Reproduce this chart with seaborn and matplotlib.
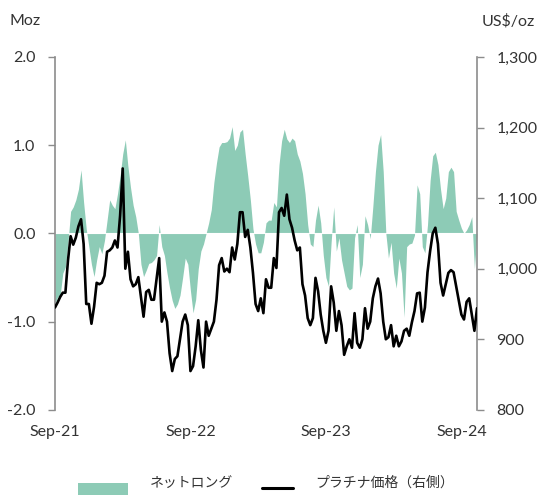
import matplotlib
matplotlib.use('Agg')
import matplotlib.pyplot as plt
import matplotlib.ticker as mticker
from matplotlib.patches import Rectangle
from matplotlib.lines import Line2D
import seaborn as sns
import numpy as np
import pandas as pd

# Datos semanales (Sep-21 .. Nov-24)
net_long = [
    -0.80, -0.72, -0.70, -0.45, -0.38, -0.10, 0.25, 0.30, 0.38, 0.50,
    0.72, 0.35, 0.05, -0.15, -0.35, -0.49, -0.30, -0.15, -0.23, -0.08,
    0.15, 0.38, 0.32, 0.28, 0.45, 0.65, 0.90, 1.06, 0.76, 0.52,
    0.32, 0.19, 0.00, -0.35, -0.49, -0.42, -0.34, -0.33, -0.30, -0.25,
    0.10, -0.15, -0.25, -0.45, -0.62, -0.76, -0.85, -0.80, -0.70, -0.50,
    -0.28, -0.35, -0.65, -0.90, -0.75, -0.40, -0.20, -0.12, 0.00, 0.12,
    0.27, 0.58, 0.80, 0.98, 1.03, 1.03, 1.04, 1.08, 1.21, 0.94,
    1.00, 1.15, 1.18, 0.90, 0.65, 0.38, 0.05, -0.12, -0.22, -0.22,
    -0.10, 0.12, 0.15, 0.15, 0.35, 0.30, 0.78, 1.05, 1.18, 1.07,
    1.03, 1.08, 1.05, 0.90, 0.82, 0.68, 0.45, 0.10, -0.12, -0.15,
    0.15, 0.32, 0.12, -0.25, -0.50, -0.60, -0.10, 0.30, -0.20, -0.05,
    -0.30, -0.45, -0.60, -0.64, -0.62, -0.05, 0.10, -0.50, -0.35, 0.20,
    0.10, -0.06, 0.30, 0.70, 1.00, 1.12, 0.70, 0.00, -0.28, -0.10,
    -0.45, -0.62, -0.28, -0.45, -0.95, -0.15, -0.12, -0.11, -0.02, 0.55,
    0.45, -0.15, -0.22, 0.10, 0.60, 0.88, 0.92, 0.78, 0.50, 0.28,
    0.40, 0.70, 0.75, 0.70, 0.25, 0.15, 0.06, 0.00, 0.04, 0.10,
    0.19, -0.40, 0.00,
]

price = [
    945, 952, 960, 966, 966, 1012, 1046, 1034, 1044, 1060,
    1070, 1035, 950, 950, 922, 946, 980, 978, 980, 990,
    1024, 1026, 1030, 1040, 1030, 1075, 1142, 1000, 1024, 985,
    975, 978, 988, 960, 932, 967, 970, 956, 956, 986,
    1015, 925, 938, 925, 880, 855, 872, 876, 900, 925,
    935, 920, 855, 862, 890, 927, 885, 860, 925, 905,
    915, 925, 956, 1005, 1015, 996, 1000, 995, 1030, 1013,
    1035, 1080, 1080, 1045, 1055, 1030, 994, 950, 940, 958,
    937, 985, 973, 973, 1015, 1001, 1080, 1086, 1075, 1105,
    1070, 1058, 1040, 1026, 1030, 978, 962, 930, 920, 930,
    987, 968, 935, 912, 895, 912, 975, 952, 912, 940,
    920, 878, 890, 900, 888, 937, 895, 888, 900, 944,
    915, 925, 958, 975, 986, 965, 925, 900, 903, 920,
    890, 905, 890, 897, 912, 915, 905, 924, 940, 965,
    966, 925, 945, 995, 1025, 1050, 1058, 1035, 980, 962,
    978, 994, 998, 995, 975, 955, 935, 928, 953, 958,
    935, 912, 944,
]

tick_pos = [0, 52, 104, 156]
tick_labels = ['Sep-21', 'Sep-22', 'Sep-23', 'Sep-24']
legend_labels = ['ネットロング', 'プラチナ価格（右側）']

df = pd.DataFrame({'week': np.arange(len(price)), 'net_long': net_long, 'price': price})

sns.set_style('white')
plt.rcParams['font.family'] = ['Lato', 'Noto Sans CJK JP', 'DejaVu Sans']
plt.rcParams['axes.unicode_minus'] = False

green = '#8dcbb6'
grey = '#8c8c8c'
txt = '#333333'

fig = plt.figure(figsize=(5.39, 4.95), dpi=100)
ax = fig.add_axes([0.102, 0.172, 0.783, 0.713])
ax.fill_between(df['week'], 0, df['net_long'], color=green, lw=0, zorder=1)
ax.axhline(0, color='white', lw=0.8, zorder=2)
ax.set_ylim(-2, 2)
ax.set_xlim(0, len(price) - 1)
ax.set_yticks([-2, -1, 0, 1, 2])
ax.yaxis.set_major_formatter(mticker.FormatStrFormatter('%.1f'))

ax2 = ax.twinx()
sns.lineplot(data=df, x='week', y='price', ax=ax2, color='black', lw=1.9, zorder=3)
ax2.set_ylim(800, 1300)
ax2.set_yticks([800, 900, 1000, 1100, 1200, 1300])
ax2.yaxis.set_major_formatter(mticker.FuncFormatter(lambda v, p: f'{int(v):,}'))
ax2.set_xlim(0, len(price) - 1)

ax.set_xticks(tick_pos)
ax.set_xticklabels(tick_labels)
ax.set_xlabel('')
ax.set_ylabel('')
ax2.set_xlabel('')
ax2.set_ylabel('')

for a in (ax, ax2):
    for s in ('top', 'bottom'):
        a.spines[s].set_visible(False)
    a.spines['left'].set_visible(a is ax)
    a.spines['right'].set_visible(a is ax2)
    a.spines['left'].set_color(grey)
    a.spines['right'].set_color(grey)
    a.spines['left'].set_linewidth(1.2)
    a.spines['right'].set_linewidth(1.2)

ax.tick_params(axis='y', left=True, length=5, width=1, color=grey, pad=9, labelsize=11.5, labelcolor=txt)
ax.tick_params(axis='x', bottom=False, length=0, pad=11, labelsize=11.5, labelcolor=txt)
ax2.tick_params(axis='y', right=True, length=5, width=1, color=grey, pad=9, labelsize=11.5, labelcolor=txt)

fig.text(0.018, 0.958, 'Moz', fontsize=11.5, color=txt, va='center', ha='left')
fig.text(0.993, 0.958, 'US$/oz', fontsize=11.5, color=txt, va='center', ha='right')

# Leyenda abajo (el recuadro verde queda cortado por el borde)
fig.add_artist(Rectangle((78 / 539, -0.01), 50 / 539, 0.034, transform=fig.transFigure,
                         facecolor=green, edgecolor='none'))
fig.text(150 / 539, 0.026, legend_labels[0], fontsize=10, color=txt, va='center', ha='left')
fig.add_artist(Line2D([262 / 539, 293 / 539], [0.014, 0.014], transform=fig.transFigure,
                      color='black', lw=2.2))
fig.text(315 / 539, 0.026, legend_labels[1], fontsize=10, color=txt, va='center', ha='left')

fig.savefig('out.png', dpi=100)
